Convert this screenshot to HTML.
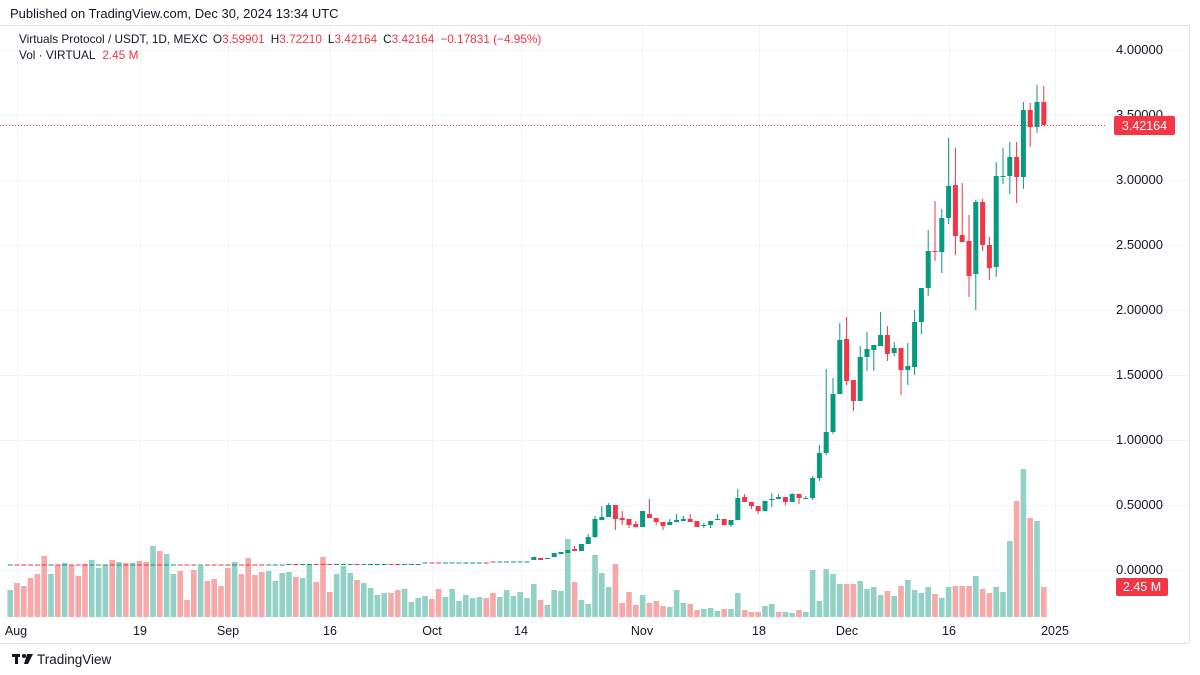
<!DOCTYPE html>
<html><head><meta charset="utf-8"><style>
body{margin:0;background:#fff;width:1200px;height:675px;overflow:hidden;font-family:"Liberation Sans",sans-serif;color:#131722}
svg{position:absolute;left:0;top:0}
</style></head><body>
<svg id="s" width="1200" height="675" xmlns="http://www.w3.org/2000/svg" font-family="Liberation Sans, sans-serif">
<rect width="1200" height="675" fill="#fff"/>
<g id="grid" stroke="#f0f3fa" stroke-width="1"></g>
<line x1="0" y1="25.5" x2="1189" y2="25.5" stroke="#e0e3eb"/>
<line x1="1189.5" y1="25" x2="1189.5" y2="643" stroke="#e0e3eb"/>
<line x1="0" y1="643.5" x2="1189" y2="643.5" stroke="#e0e3eb"/>
<g id="vol"></g>
<g id="cand"></g>
<line x1="0" y1="125.5" x2="1105" y2="125.5" stroke="#f23645" stroke-width="1" stroke-dasharray="1,2"/>
<g font-size="13" fill="#131722" id="ylab"></g>
<rect x="1114" y="116" width="61" height="19" rx="2" fill="#f23645"/>
<text x="1144.5" y="130" font-size="12.5" fill="#fff" text-anchor="middle">3.42164</text>
<rect x="1116" y="578" width="52" height="18" rx="2" fill="#f23645"/>
<text x="1142" y="591" font-size="12.5" fill="#fff" text-anchor="middle">2.45 M</text>
<g font-size="12.5" fill="#131722" text-anchor="middle">
<text x="16" y="635">Aug</text><text x="140" y="635">19</text><text x="228" y="635">Sep</text><text x="330" y="635">16</text><text x="432" y="635">Oct</text><text x="521" y="635">14</text><text x="642" y="635">Nov</text><text x="759" y="635">18</text><text x="847" y="635">Dec</text><text x="949" y="635">16</text><text x="1055" y="635">2025</text>
</g>
<text x="10" y="18" font-size="13" fill="#131722">Published on TradingView.com, Dec 30, 2024 13:34 UTC</text>
<text x="19" y="43" font-size="11.8" fill="#131722">Virtuals Protocol / USDT, 1D, MEXC <tspan dx="2">O</tspan><tspan fill="#f23645">3.59901</tspan><tspan dx="6">H</tspan><tspan fill="#f23645">3.72210</tspan><tspan dx="6">L</tspan><tspan fill="#f23645">3.42164</tspan><tspan dx="6">C</tspan><tspan fill="#f23645">3.42164</tspan><tspan dx="6" fill="#f23645">−0.17831 (−4.95%)</tspan></text>
<text x="19" y="59" font-size="11.8" fill="#131722">Vol · VIRTUAL <tspan dx="4" fill="#f23645">2.45 M</tspan></text>
<g transform="translate(12,654)" fill="#131722"><rect x="0" y="0" width="8" height="3"/><rect x="3" y="0" width="3" height="10"/><circle cx="12" cy="2" r="2"/><path d="M15 0 L21 0 L16 10 L12 10 Z"/></g>
<text x="37" y="664" font-size="13.5" fill="#131722">TradingView</text>
</svg>
<script>
var NS="http://www.w3.org/2000/svg";
function el(p,t,a){var e=document.createElementNS(NS,t);for(var k in a)e.setAttribute(k,a[k]);p.appendChild(e);return e;}
var grid=document.getElementById('grid');
[50,115,180,245,310,375,440,505,570].forEach(function(y){el(grid,'line',{x1:0,y1:y+.5,x2:1189,y2:y+.5});});
[17,140,228,330,432,521,642,759,847,949,1055].forEach(function(x){el(grid,'line',{x1:x+.5,y1:26,x2:x+.5,y2:618});});
var yl=document.getElementById('ylab');
var labs=["4.00000","3.50000","3.00000","2.50000","2.00000","1.50000","1.00000","0.50000","0.00000"];
labs.forEach(function(t,i){var y=[50,115,180,245,310,375,440,505,570][i];var e=el(yl,'text',{x:1116,y:y+4});e.textContent=t;});
var vs="g590,r583,r586,r578,r574,r556,g574,r565,g563,r565,r576,r564,g560,g568,g565,r560,g562,r563,g563,r561,r562,g546,r551,g554,g574,r571,r600,r570,g566,r581,r579,r586,r568,g562,r574,r558,r575,r572,g571,g581,g573,g572,r577,g578,g565,r582,r557,r592,g574,g566,g573,r580,g583,g588,g595,g593,r593,r590,g589,g602,g598,g596,r599,r589,g597,g589,g601,g595,g598,g597,r598,r593,g597,g590,g596,g592,g598,g584,r600,g605,g590,g591,g539,r582,g600,g604,g555,g573,g587,r564,r603,r592,r605,g595,r603,r601,r606,g607,g590,g603,r604,r610,g609,g608,g611,r609,g609,g593,r610,r612,r612,g606,g604,r612,g612,g613,r610,g612,g570,g601,g569,g574,g584,r584,r584,g581,g589,g587,g595,r591,g596,r586,g580,g590,g593,g587,r594,g598,g587,r586,r586,r586,g576,r589,r593,g587,g592,g541,r501,g469,r518,g521,r587".split(",");
var vg=document.getElementById('vol'),cg=document.getElementById('cand');
var cols=[];
vs.forEach(function(v,k){var i=k-1;var x=17+6.8*i;var c=v[0];cols.push(c);var t=+v.slice(1);
el(vg,'rect',{x:(x-2.8).toFixed(1),y:t,width:5.6,height:617-t,fill:c=='g'?'#92d2c6':'#f7a8a8'});});
var C={76:"g557,560",77:"r558,560",78:"g558,559",79:"g553,557",80:"g552,554",81:"g550,553",82:"r549,551,546",83:"g544,551",84:"g537,544,534",85:"g519,537,516,538",86:"g517,520,506",87:"g505,517,503",88:"r505,519,505,530",89:"r518,520,511,525",90:"r519,525,519,528",91:"r524,527,521",92:"g511,527",93:"r514,518,499",94:"r518,522,518,525",95:"r522,526,522,530",96:"g522,525,519",97:"g520,522,514",98:"g519,521,516",99:"r519,522,514",100:"r521,527",101:"g525,526,523,528",102:"g521,525,521,528",103:"g519,520,514",104:"r519,525",105:"g520,525,520,527",106:"g498,520,489",107:"r497,502,494",108:"r502,506,502,509",109:"r506,511,506,514",110:"g501,511",111:"g499,500,493,507",112:"g497,499,494",113:"r497,502,497,505",114:"g494,502,493",115:"r494,498,494,504",116:"g498,499,496",117:"g478,498,476,500",118:"g453,478,445,481",119:"g432,453,369,455",120:"g394,432,378,434",121:"g340,394,323",122:"r339,381,317,385",123:"r380,401,380,411",124:"g357,401,346",125:"g349,357,332,371",126:"g345,350,345,371",127:"g335,346,312",128:"r335,354,326,361",129:"g348,353,342,356",130:"r348,370,348,395",131:"g366,370,343,385",132:"g322,367,310,375",133:"g288,322,288,334",134:"g251,288,230,296",135:"r251,252,201,261",136:"g218,252,209,273",137:"g186,218,138,224",138:"r185,236,148,255",139:"r235,242,183",140:"r241,276,215,297",141:"g202,274,200,310",142:"r202,245,199,251",143:"r245,268,237,280",144:"g176,267,162,277",145:"g176,177,148,184",146:"g157,176,142,194",147:"r157,177,142,203",148:"g110,177,102,189",149:"r110,127,103,147",150:"g102,127,85,133",151:"r102,125,86"};
for(var i=-1;i<=151;i++){var x=17+6.8*i,s,c,a;
 if(C[i]){s=C[i];c=s[0];a=s.slice(1).split(",").map(Number);}
 else{c=cols[i+1];var base=i<40?565:(i<60?564.5:(i<70?563:562));a=[base-0.5,base+0.5];}
 var col=c=='g'?'#089981':'#f23645';
 var wt=a.length>2?a[2]:a[0],wb=a.length>3?a[3]:a[1];
 if(wt<a[0]||wb>a[1])el(cg,'line',{x1:x.toFixed(1),x2:x.toFixed(1),y1:wt,y2:wb,stroke:col,'stroke-width':1});
 el(cg,'rect',{x:(x-2.5).toFixed(1),y:a[0],width:5,height:Math.max(1,a[1]-a[0]),fill:col});
}
</script>
</body></html>
